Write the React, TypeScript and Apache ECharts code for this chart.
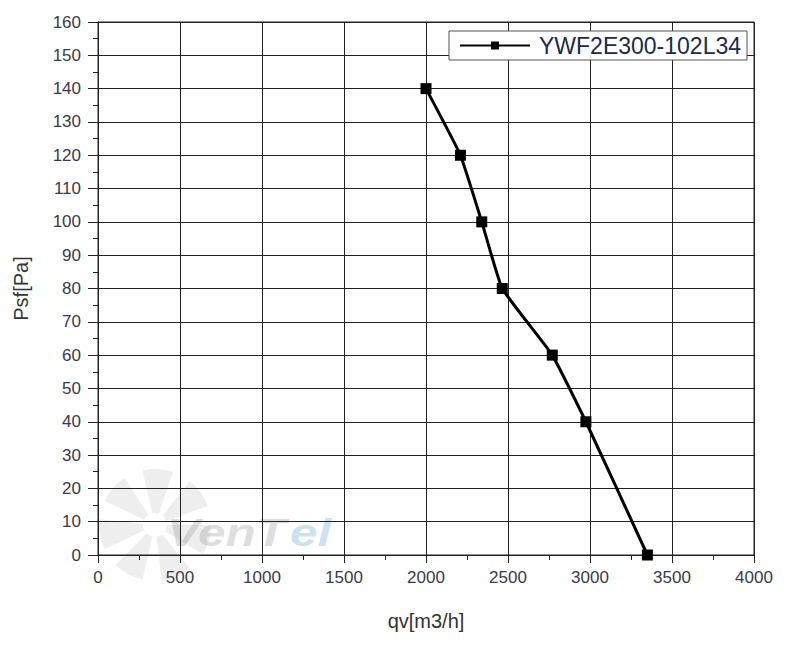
import React, { useEffect, useRef } from "react";
import * as echarts from "echarts";

const seriesName = "YWF2E300-102L34";
const flow = [2000, 2210, 2340, 2465, 2770, 2975, 3350];
const pressure = [140, 120, 100, 80, 60, 40, 0];
const xTicks = { min: 0, max: 4000, interval: 500 };
const yTicks = { min: 0, max: 160, interval: 10 };

export default function App() {
  const ref = useRef<HTMLDivElement>(null);
  useEffect(() => {
    if (!ref.current) return;
    const chart = echarts.init(ref.current, undefined, { renderer: "svg" });
    const font = "Liberation Sans";
    const labelStyle = { color: "#3a3a4a", fontSize: 17, fontFamily: font };
    const fanBlades = [0, 1, 2, 3, 4, 5, 6].map((k) => ({
      type: "sector",
      z: -1,
      shape: {
        cx: 155,
        cy: 525,
        r0: 12,
        r: 56,
        startAngle: (k * 2 * Math.PI) / 7,
        endAngle: (k * 2 * Math.PI) / 7 + 0.55,
      },
      style: { fill: "rgba(170,170,170,0.2)" },
    }));
    chart.setOption({
      animation: false,
      backgroundColor: "#ffffff",
      grid: { left: 98, right: 41, top: 22, bottom: 98, show: true, borderColor: "#222", borderWidth: 1, backgroundColor: "transparent" },
      graphic: [
        ...fanBlades,
        {
          type: "text",
          x: 167,
          y: 514,
          scaleX: 1.3,
          z: -1,
          style: { text: "VenT", fontSize: 38, fontWeight: "bold", fontStyle: "italic", fontFamily: font, fill: "rgba(150,150,150,0.32)" },
        },
        {
          type: "text",
          x: 290,
          y: 514,
          scaleX: 1.3,
          z: -1,
          style: { text: "el", fontSize: 38, fontWeight: "bold", fontStyle: "italic", fontFamily: font, fill: "rgba(110,170,215,0.35)" },
        },
      ],
      legend: {
        show: true,
        right: 48,
        top: 31,
        orient: "horizontal",
        backgroundColor: "#fff",
        borderColor: "#555",
        borderWidth: 1,
        borderRadius: 0,
        padding: [3, 6, 3, 10],
        itemWidth: 70,
        itemHeight: 10,
        itemGap: 4,
        textStyle: { color: "#1a2a50", fontSize: 23, fontFamily: font, padding: [0, 0, 0, 4] },
        data: [{ name: seriesName }],
      },
      xAxis: {
        type: "value",
        min: xTicks.min,
        max: xTicks.max,
        interval: xTicks.interval,
        name: "qv[m3/h]",
        nameLocation: "middle",
        nameGap: 56,
        nameTextStyle: { color: "#333", fontSize: 20, fontFamily: font },
        axisLine: { show: true, lineStyle: { color: "#222", width: 1 } },
        axisTick: { show: true, length: 8, inside: false, lineStyle: { color: "#222" } },
        minorTick: { show: true, splitNumber: 2, length: 5, lineStyle: { color: "#222" } },
        axisLabel: { ...labelStyle, margin: 14, formatter: (v: number) => String(v) },
        splitLine: { show: true, lineStyle: { color: "#222", width: 1 } },
      },
      yAxis: {
        type: "value",
        min: yTicks.min,
        max: yTicks.max,
        interval: yTicks.interval,
        name: "Psf[Pa]",
        nameLocation: "middle",
        nameGap: 67,
        nameTextStyle: { color: "#333", fontSize: 20, fontFamily: font },
        axisLine: { show: true, lineStyle: { color: "#222", width: 1 } },
        axisTick: { show: true, length: 10, inside: false, lineStyle: { color: "#222" } },
        minorTick: { show: true, splitNumber: 2, length: 5, lineStyle: { color: "#222" } },
        axisLabel: { ...labelStyle, margin: 17 },
        splitLine: { show: true, lineStyle: { color: "#222", width: 1 } },
      },
      series: [
        {
          name: seriesName,
          type: "line",
          smooth: 0.12,
          data: flow.map((f, i) => [f, pressure[i]]),
          symbol: "rect",
          symbolSize: 11,
          itemStyle: { color: "#000" },
          lineStyle: { color: "#000", width: 3 },
          z: 5,
        },
      ],
    });
    return () => chart.dispose();
  }, []);
  return <div ref={ref} style={{ width: 795, height: 653, position: "absolute", left: 0, top: 0 }} />;
}
